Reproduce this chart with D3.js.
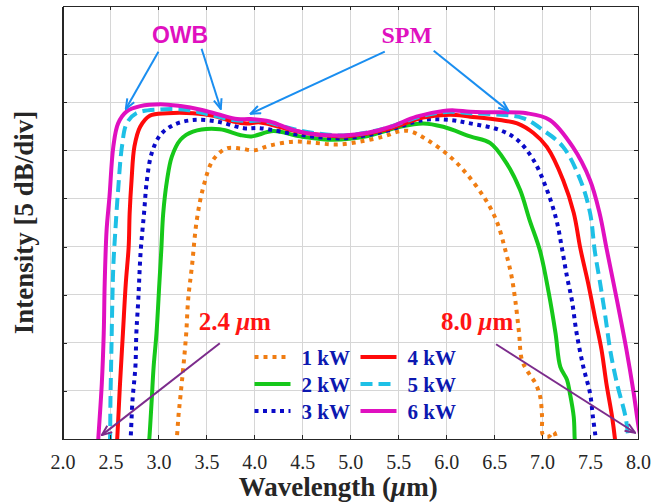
<!DOCTYPE html>
<meta charset="utf-8">
<head>
<style>
body { margin: 0; background: #fff; }
.grid line { stroke: #d6d6d6; stroke-width: 1; shape-rendering: crispEdges; }
.axis path, .axis line { fill: none; stroke: #262626; shape-rendering: crispEdges; }
.axis path { stroke-width: 1.5; }
.axisLabel { font-family: "Liberation Serif", "Times New Roman", Times, "DejaVu Serif", serif; font-size: 27px; font-weight: bold; fill: #262626; }
.legendText { font-family: "Liberation Serif", "Times New Roman", Times, "DejaVu Serif", serif; font-size: 21px; font-weight: bold; fill: #0c18b0; }
.serifNote { font-family: "Liberation Serif", "Times New Roman", Times, "DejaVu Serif", serif; font-weight: bold; }
.curve { fill: none; stroke-width: 4; }
</style>
</head>
<body>
<script src="https://cdnjs.cloudflare.com/ajax/libs/d3/7.8.5/d3.min.js"></script>
<script>

// wavelength (um) , intensity (divisions above the bottom of the frame)
var kw1 = [[3.18,-0.1],[3.19,0],[3.21,0.5],[3.23,0.9],[3.26,1.5],[3.29,2.2],[3.31,2.9],[3.35,3.6],[3.40,4.55],[3.47,5.25],[3.57,5.8],[3.71,6.04],[3.85,6.04],[4.0,6.0],[4.16,6.1],[4.41,6.18],[4.65,6.15],[4.86,6.12],[5.1,6.18],[5.35,6.29],[5.5,6.39],[5.62,6.4],[5.8,6.22],[6.04,5.87],[6.21,5.52],[6.39,5.04],[6.49,4.69],[6.55,4.4],[6.62,3.9],[6.68,3.4],[6.72,2.89],[6.76,2.2],[6.79,1.64],[6.86,1.37],[6.93,1.16],[6.98,0.88],[7.0,0.46],[7.01,0.08],[7.07,0.05],[7.12,0.15],[7.15,0.0],[7.16,-0.1]];
var kw2 = [[2.9,-0.1],[2.905,0],[2.93,0.81],[2.95,1.5],[2.98,2.2],[3.01,3.24],[3.03,3.93],[3.05,4.69],[3.09,5.38],[3.14,5.87],[3.23,6.22],[3.36,6.39],[3.64,6.44],[3.85,6.32],[3.97,6.29],[4.2,6.4],[4.48,6.29],[4.82,6.22],[5.17,6.29],[5.52,6.49],[5.76,6.56],[5.97,6.49],[6.25,6.29],[6.46,6.15],[6.63,5.73],[6.77,5.18],[6.87,4.55],[6.98,3.9],[7.07,3.03],[7.14,2.2],[7.19,1.5],[7.26,1.23],[7.29,0.95],[7.33,0.46],[7.34,0],[7.345,-0.1]];
var kw3 = [[2.705,-0.1],[2.71,0],[2.73,0.81],[2.76,1.5],[2.77,2.2],[2.79,2.89],[2.815,3.9],[2.85,4.69],[2.88,5.38],[2.93,5.94],[3.02,6.32],[3.16,6.53],[3.36,6.63],[3.61,6.6],[3.89,6.46],[4.06,6.46],[4.48,6.32],[4.93,6.25],[5.35,6.39],[5.76,6.63],[6.04,6.63],[6.25,6.56],[6.56,6.42],[6.74,6.22],[6.91,5.8],[7.05,5.18],[7.15,4.55],[7.21,3.93],[7.26,3.37],[7.31,2.89],[7.36,2.2],[7.43,1.5],[7.5,0.95],[7.53,0.46],[7.56,0],[7.565,-0.1]];
var kw4 = [[2.565,-0.1],[2.57,0],[2.6,1.16],[2.63,2.2],[2.66,3.24],[2.69,4.0],[2.70,4.69],[2.72,5.38],[2.75,6.08],[2.81,6.49],[2.91,6.72],[3.09,6.77],[3.36,6.77],[3.57,6.72],[3.78,6.6],[3.92,6.56],[4.06,6.58],[4.48,6.38],[4.93,6.29],[5.35,6.42],[5.76,6.68],[6.04,6.74],[6.25,6.7],[6.56,6.63],[6.74,6.56],[6.91,6.36],[7.05,6.07],[7.22,5.38],[7.33,4.7],[7.40,3.95],[7.48,3.24],[7.55,2.54],[7.62,1.85],[7.67,1.16],[7.73,0.46],[7.76,0],[7.765,-0.1]];
var kw5 = [[2.49,-0.1],[2.495,0],[2.5,0.81],[2.51,1.85],[2.52,2.89],[2.53,3.6],[2.55,4.3],[2.58,5.18],[2.62,6.08],[2.67,6.56],[2.77,6.77],[3.02,6.85],[3.3,6.84],[3.54,6.74],[3.78,6.63],[3.955,6.61],[4.06,6.62],[4.48,6.41],[4.93,6.31],[5.35,6.45],[5.76,6.72],[6.04,6.8],[6.25,6.77],[6.5,6.75],[6.8,6.67],[7.01,6.42],[7.22,6.07],[7.4,5.38],[7.5,4.7],[7.55,3.9],[7.605,3.24],[7.66,2.54],[7.71,1.85],[7.78,1.16],[7.87,0.46],[7.9,0],[7.905,-0.1]];
var kw6 = [[2.37,-0.1],[2.373,0],[2.41,1.16],[2.43,2.2],[2.44,3.24],[2.46,4.35],[2.49,5.04],[2.53,6.08],[2.58,6.56],[2.67,6.81],[2.81,6.92],[3.02,6.96],[3.23,6.92],[3.43,6.85],[3.64,6.74],[3.82,6.65],[3.96,6.65],[4.16,6.6],[4.41,6.42],[4.65,6.33],[4.93,6.31],[5.17,6.36],[5.42,6.49],[5.69,6.7],[5.97,6.82],[6.09,6.83],[6.25,6.8],[6.5,6.79],[6.84,6.77],[7.08,6.63],[7.32,6.07],[7.5,5.38],[7.6,4.69],[7.675,3.93],[7.78,2.89],[7.88,1.85],[7.95,1.02],[8.0,0.33],[8.02,0.1]];

var seriesNames = ["1 kW", "2 kW", "3 kW", "4 kW", "5 kW", "6 kW"];
var seriesColors = ["#f07d12", "#16c81a", "#0a0ac8", "#ff0a0a", "#1ec0e6", "#e010c0"];
var seriesDash = ["4,5", null, "4,4.5", null, "12,6", null];

var xTicks = [2.0, 2.5, 3.0, 3.5, 4.0, 4.5, 5.0, 5.5, 6.0, 6.5, 7.0, 7.5, 8.0];
var yTicks = [0, 1, 2, 3, 4, 5, 6, 7, 8, 9];

var margin = {top: 6, right: 16, bottom: 65, left: 62.5},
    width = 654 - margin.left - margin.right,
    height = 504 - margin.top - margin.bottom;

var x = d3.scaleLinear().domain([2, 8]).range([0, width]);
var y = d3.scaleLinear().domain([0, 9]).range([height, 0]);

var svg = d3.select("body").append("svg")
    .attr("width", 654)
    .attr("height", 504)
  .append("g")
    .attr("transform", "translate(" + margin.left + "," + margin.top + ")");

svg.append("defs").append("clipPath")
    .attr("id", "plotClip")
  .append("rect")
    .attr("width", width)
    .attr("height", height);

// grid
svg.append("g").attr("class", "grid")
  .selectAll("line").data(xTicks.slice(1, -1)).enter().append("line")
    .attr("x1", function(d) { return x(d); })
    .attr("x2", function(d) { return x(d); })
    .attr("y1", 0).attr("y2", height);

svg.append("g").attr("class", "grid")
  .selectAll("line").data(yTicks.slice(1, -1)).enter().append("line")
    .attr("y1", function(d) { return y(d); })
    .attr("y2", function(d) { return y(d); })
    .attr("x1", 0).attr("x2", width);

// curves
var line = d3.line()
    .x(function(d) { return x(d[0]); })
    .y(function(d) { return y(d[1]); })
    .curve(d3.curveCatmullRom.alpha(0.5));

var allSeries = [kw1, kw2, kw3, kw4, kw5, kw6];

svg.append("g")
    .attr("clip-path", "url(#plotClip)")
  .selectAll("path").data(allSeries).enter().append("path")
    .attr("class", "curve")
    .attr("d", line)
    .style("stroke", function(d, i) { return seriesColors[i]; })
    .style("stroke-dasharray", function(d, i) { return seriesDash[i]; });

// axes (ticks inside on all four sides)
var xAxisG = svg.append("g")
    .attr("class", "x axis")
    .attr("transform", "translate(0," + height + ")")
    .call(d3.axisBottom(x).tickValues(xTicks).tickSizeInner(-4).tickSizeOuter(0).tickPadding(16).tickFormat(d3.format(".1f")));

xAxisG.selectAll("text")
    .style("font-family", "'Liberation Serif', 'Times New Roman', Times, serif")
    .style("font-size", "20px")
    .style("fill", "#262626");

svg.append("g")
    .attr("class", "axis")
    .call(d3.axisTop(x).tickValues(xTicks).tickSizeInner(-4).tickSizeOuter(0).tickFormat(""));

svg.append("g")
    .attr("class", "axis")
    .call(d3.axisLeft(y).tickValues(yTicks).tickSizeInner(-4).tickSizeOuter(0).tickFormat(""));

svg.append("g")
    .attr("class", "axis")
    .attr("transform", "translate(" + width + ",0)")
    .call(d3.axisRight(y).tickValues(yTicks).tickSizeInner(-4).tickSizeOuter(0).tickFormat(""));

// axis labels
var xl = svg.append("text")
    .attr("class", "axisLabel")
    .attr("x", width / 2 - 12)
    .attr("y", height + 57)
    .style("text-anchor", "middle");
xl.append("tspan").text("Wavelength (");
xl.append("tspan").style("font-style", "italic").text("\u03bc");
xl.append("tspan").text("m)");

svg.append("text")
    .attr("class", "axisLabel")
    .attr("transform", "translate(" + (33 - margin.left) + "," + (height / 2) + ") rotate(-90)")
    .style("text-anchor", "middle")
    .text("Intensity [5 dB/div]");

// legend
var legendPos = [[0, 0], [0, 1], [0, 2], [1, 0], [1, 1], [1, 2]];
var legend = svg.selectAll(".legend")
    .data(seriesNames)
    .enter().append("g")
    .attr("class", "legend")
    .attr("transform", function(d, i) {
      return "translate(" + (192 + legendPos[i][0] * 106) + "," + (351 + legendPos[i][1] * 27) + ")";
    });

legend.append("line")
    .attr("x1", 0).attr("x2", 36)
    .attr("y1", 0).attr("y2", 0)
    .style("stroke-width", 4)
    .style("stroke", function(d, i) { return seriesColors[i]; })
    .style("stroke-dasharray", function(d, i) { return seriesDash[i]; });

legend.append("text")
    .attr("class", "legendText")
    .attr("x", 47)
    .attr("y", 7.5)
    .text(function(d) { return d; });

// annotations
var blue = "#1a8ef0", purple = "#7c2c8c";
var defs = svg.select("defs");
[["headBlue", blue], ["headPurple", purple]].forEach(function(m) {
  defs.append("marker")
      .attr("id", m[0])
      .attr("viewBox", "0 0 12 10")
      .attr("refX", 11).attr("refY", 5)
      .attr("markerWidth", 12).attr("markerHeight", 10)
      .attr("markerUnits", "userSpaceOnUse")
      .attr("orient", "auto")
    .append("path")
      .attr("d", "M1,1 L11,5 L1,9")
      .style("fill", "none")
      .style("stroke", m[1])
      .style("stroke-width", 2);
});

var blueArrows = [[3.0, 8.05, 2.66, 6.86], [3.45, 8.11, 3.65, 6.86], [5.36, 8.05, 3.96, 6.76], [5.87, 8.07, 6.65, 6.82]];
var purpleArrows = [[3.64, 1.99, 2.41, 0.08], [6.52, 1.97, 7.97, 0.13]];

svg.selectAll(".arrowB").data(blueArrows).enter().append("line")
    .attr("x1", function(d) { return x(d[0]); })
    .attr("y1", function(d) { return y(d[1]); })
    .attr("x2", function(d) { return x(d[2]); })
    .attr("y2", function(d) { return y(d[3]); })
    .style("stroke", blue).style("stroke-width", 2)
    .attr("marker-end", "url(#headBlue)");

svg.selectAll(".arrowP").data(purpleArrows).enter().append("line")
    .attr("x1", function(d) { return x(d[0]); })
    .attr("y1", function(d) { return y(d[1]); })
    .attr("x2", function(d) { return x(d[2]); })
    .attr("y2", function(d) { return y(d[3]); })
    .style("stroke", purple).style("stroke-width", 2)
    .attr("marker-end", "url(#headPurple)");

svg.append("text")
    .attr("x", x(3.225)).attr("y", y(8.23))
    .style("text-anchor", "middle")
    .style("font-family", "'Liberation Sans', Arial, sans-serif")
    .style("font-weight", "bold").style("font-size", "23px")
    .style("fill", "#e010c0")
    .text("OWB");

svg.append("text")
    .attr("class", "serifNote")
    .attr("x", x(5.59)).attr("y", y(8.23))
    .style("text-anchor", "middle")
    .style("font-size", "24px")
    .style("fill", "#e010c0")
    .text("SPM");

var edgeLabels = [["2.4 ", 3.42, "start"], ["8.0 ", 6.70, "end"]];
edgeLabels.forEach(function(e) {
  var t = svg.append("text")
      .attr("class", "serifNote")
      .attr("x", x(e[1])).attr("y", y(2.27))
      .style("text-anchor", e[2])
      .style("font-size", "25px")
      .style("fill", "#ff1414");
  t.append("tspan").text(e[0]);
  t.append("tspan").style("font-style", "italic").text("\u03bc");
  t.append("tspan").text("m");
});

</script>
</body>
